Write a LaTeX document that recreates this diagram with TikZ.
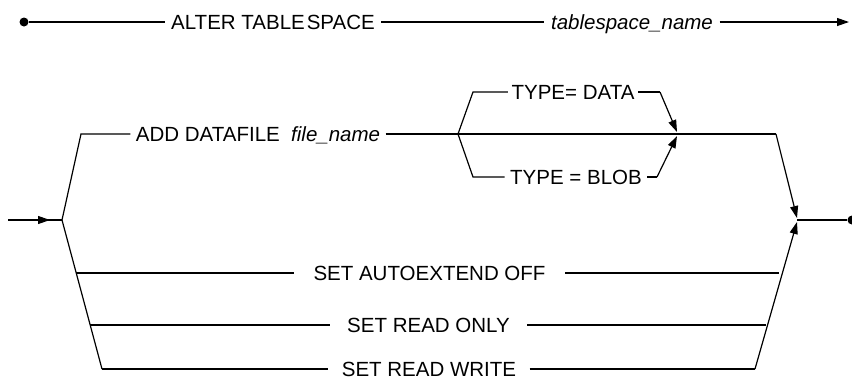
\documentclass[tikz,border=0pt]{standalone}
\usepackage{fontspec}
\setmainfont{Liberation Sans}
\usetikzlibrary{arrows.meta}
\begin{document}
\begin{tikzpicture}[x=1pt,y=-1pt,line width=1.2pt,
  lbl/.style={inner xsep=5pt,inner ysep=0pt,text height=14.5pt,text depth=0pt,font=\fontsize{20.5}{24}\selectfont},
  arr/.style={-{Triangle[length=12pt,width=8pt]}},
  dotnode/.style={circle,fill,inner sep=0pt,minimum size=9pt}]
\useasboundingbox (0,0) rectangle (852,378);
% top row
\node[dotnode] (s) at (24,22) {};
\node[lbl,inner xsep=6pt] (alter) at (273,22) {ALTER TABLE\kern2pt SPACE};
\node[lbl,inner xsep=6pt] (tsn) at (632,22) {\itshape tablespace\_name};
\coordinate (e1) at (849,22);
\draw (s) -- (alter);
\draw (alter) -- (tsn);
\draw[arr] (tsn) -- (e1);
% second part
\coordinate (in) at (8,220);
\coordinate (inarr) at (50,220);
\coordinate (j1) at (62,220);
\draw[arr] (in) -- (inarr);
\draw (in) -- (j1);
% add datafile
\coordinate (u1) at (81,134);
\node[lbl,inner xsep=5pt] (add) at (258,134) {ADD DATAFILE\ \ \textit{file\_name}};
\coordinate (j2) at (458,134);
\draw (j1) -- (u1) -- (add);
\draw (add) -- (j2);
% type branch
\coordinate (t1) at (473,92);
\node[lbl,inner xsep=3pt] (tdata) at (573,92) {TYPE= DATA};
\coordinate (t2) at (660,92);
\coordinate (j3a) at (677,132);
\draw (j2) -- (t1) -- (tdata);
\draw (tdata) -- (t2);
\draw[arr] (t2) -- (j3a);
\coordinate (b1) at (473,177);
\node[lbl,inner xsep=5pt] (tblob) at (576,177) {TYPE = BLOB};
\coordinate (b2) at (657,177);
\coordinate (j3b) at (677,136);
\draw (j2) -- (b1) -- (tblob);
\draw (tblob) -- (b2);
\draw[arr] (b2) -- (j3b);
% main line
\coordinate (m1) at (776,134);
\coordinate (j4a) at (797,218);
\coordinate (j4) at (797,220);
\coordinate (j4b) at (797,222);
\draw (j2) -- (m1);
\draw[arr] (m1) -- (j4a);
\node[dotnode] (end) at (852,220) {};
\draw (j4) -- (end);
% lower branches
\coordinate (l1) at (76,273);
\coordinate (l2) at (90,325);
\coordinate (l3) at (102,369);
\draw (j1) -- (l3);
\node[lbl,inner xsep=19pt] (auto) at (429.5,273) {SET AUTOEXTEND OFF};
\node[lbl,inner xsep=17pt] (ronly) at (428.5,325) {SET READ ONLY};
\node[lbl,inner xsep=13pt] (rwrite) at (429,369) {SET READ WRITE};
\coordinate (r1) at (779,273);
\coordinate (r2) at (766,325);
\coordinate (r3) at (755,369);
\draw (l1) -- (auto);
\draw (auto) -- (r1);
\draw (l2) -- (ronly);
\draw (ronly) -- (r2);
\draw (l3) -- (rwrite);
\draw (rwrite) -- (r3);
\draw[arr] (r3) -- (j4b);
\end{tikzpicture}
\end{document}
